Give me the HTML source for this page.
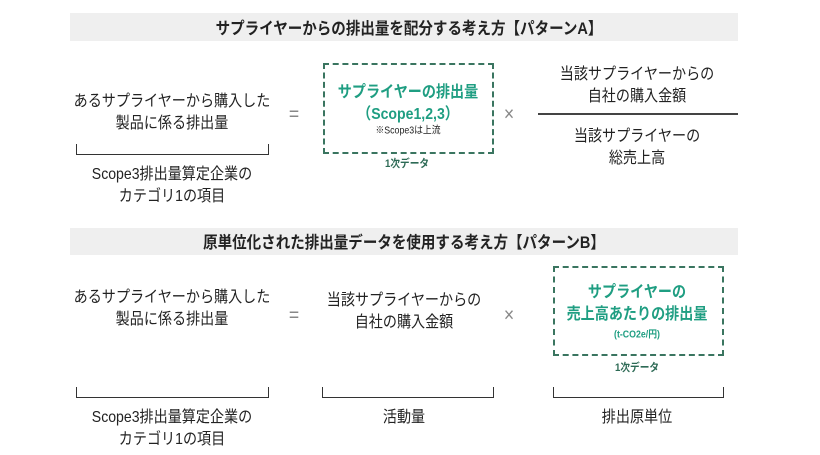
<!DOCTYPE html>
<html><head><meta charset="utf-8"><style>
body{margin:0;width:820px;height:455px;background:#fff;position:relative;overflow:hidden;font-family:"Liberation Sans","Noto Sans CJK JP",sans-serif;color:#222}
.a{position:absolute;white-space:nowrap;transform:translate(-50%,-50%) scaleX(.88);text-align:center}
.bar{position:absolute;left:70px;width:668px;background:#efefef}
.t{font-size:16px;line-height:22px}
.g{color:#1f9e82;font-weight:bold;font-size:16px;line-height:22px}
.box{position:absolute;border:2px dashed #3a7560;box-sizing:border-box}
.br{position:absolute;border:1.5px solid #333;border-top:none;height:11px;box-sizing:border-box}
.s{font-size:11px;font-weight:bold;color:#2d6a55}
.op{font-size:20px;color:#888}
</style></head><body>
<div class="bar" style="top:13px;height:28px"></div>
<div class="a" style="left:409px;top:27px;font-size:16.5px;font-weight:bold">サプライヤーからの排出量を配分する考え方【パターンA】</div>
<div class="a t" style="left:172px;top:113px">あるサプライヤーから購入した<br>製品に係る排出量</div>
<div class="br" style="left:76px;top:144px;width:193px"></div>
<div class="a t" style="left:172px;top:186px">Scope3排出量算定企業の<br>カテゴリ1の項目</div>
<div class="a op" style="left:294px;top:115px">=</div>
<div class="box" style="left:323px;top:63px;width:171px;height:91px"></div>
<div class="a g" style="left:408px;top:104px">サプライヤーの排出量<br>（Scope1,2,3）</div>
<div class="a" style="left:408px;top:129px;font-size:10px">※Scope3は上流</div>
<div class="a s" style="left:407px;top:163px">1次データ</div>
<div class="a op" style="left:509px;top:115px">×</div>
<div class="a t" style="left:637px;top:86px">当該サプライヤーからの<br>自社の購入金額</div>
<div style="position:absolute;left:538px;top:113px;width:200px;height:2px;background:#444"></div>
<div class="a t" style="left:637px;top:148px">当該サプライヤーの<br>総売上高</div>

<div class="bar" style="top:228px;height:27px"></div>
<div class="a" style="left:404px;top:241px;font-size:16.5px;font-weight:bold">原単位化された排出量データを使用する考え方【パターンB】</div>
<div class="a t" style="left:172px;top:309px">あるサプライヤーから購入した<br>製品に係る排出量</div>
<div class="a op" style="left:294px;top:316px">=</div>
<div class="a t" style="left:404px;top:312px">当該サプライヤーからの<br>自社の購入金額</div>
<div class="a op" style="left:509px;top:316px">×</div>
<div class="box" style="left:553px;top:266px;width:171px;height:90px"></div>
<div class="a g" style="left:637px;top:304px">サプライヤーの<br>売上高あたりの排出量</div>
<div class="a" style="left:637px;top:333px;font-size:10px;font-weight:bold;color:#1f9e82">(t-CO2e/円)</div>
<div class="a s" style="left:637px;top:367px">1次データ</div>
<div class="br" style="left:76px;top:387px;width:193px"></div>
<div class="br" style="left:322px;top:387px;width:172px"></div>
<div class="br" style="left:553px;top:387px;width:171px"></div>
<div class="a t" style="left:172px;top:429px">Scope3排出量算定企業の<br>カテゴリ1の項目</div>
<div class="a t" style="left:404px;top:418px">活動量</div>
<div class="a t" style="left:637px;top:418px">排出原単位</div>
</body></html>
